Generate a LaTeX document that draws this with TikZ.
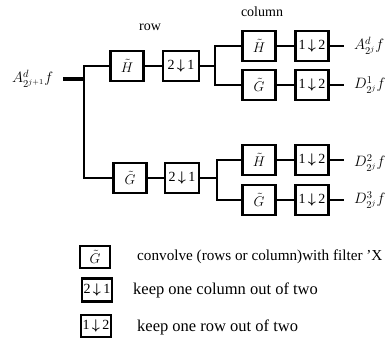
\documentclass[tikz,border=0pt]{standalone}
\usepackage{fix-cm}
\usepackage{fontspec}
\setmainfont{Liberation Serif}
\usepackage{amsmath,bm}
\newcommand{\keepcol}{2\,$\bm{\downarrow}$\,1}
\newcommand{\keeprow}{1\,$\bm{\downarrow}$\,2}
\begin{document}
\begin{tikzpicture}[x=1pt,y=-1pt,
  box/.style={draw, line width=2.8pt, minimum width=33pt, minimum height=30pt,
    inner sep=0pt, font=\fontsize{14}{15}\selectfont},
  keybox/.style={box, minimum width=30pt, minimum height=22pt},
  wire/.style={line width=2.6pt},
  lbl/.style={font=\fontsize{15}{16}\selectfont, anchor=west, inner sep=0pt},
  note/.style={font=\fontsize{16.5}{18}\selectfont, anchor=west, inner sep=0pt},
  head/.style={font=\fontsize{14}{15}\selectfont, inner sep=0pt}]
\useasboundingbox (0,0) rectangle (388,355);

% headings
\node[head] (hrow) at (150,27) {row};
\node[head] (hcol) at (262,12) {column};

% input
\node[lbl] (in) at (12,79) {$A^{d}_{2^{j+1}}f$};
\coordinate (i0) at (63,79);
\coordinate (s0) at (84,79);

% row stage
\node[box] (H1) at (127,66) {$\tilde H$};
\node[box, minimum width=36pt] (R1) at (181,66) {\keepcol};
\node[box] (G1) at (130,178) {$\tilde G$};
\node[box, minimum width=34pt] (R2) at (182,178) {\keepcol};

% column stage, upper
\coordinate (s1) at (215,66);
\node[box] (H11) at (259,46) {$\tilde H$};
\node[box] (G11) at (259,85) {$\tilde G$};
\node[box] (C11) at (312,46) {\keeprow};
\node[box] (C12) at (312,85) {\keeprow};

% column stage, lower
\coordinate (s2) at (217,178);
\node[box] (H21) at (259,160) {$\tilde H$};
\node[box] (G21) at (259,200) {$\tilde G$};
\node[box] (C21) at (312,160) {\keeprow};
\node[box] (C22) at (312,200) {\keeprow};

% outputs
\coordinate (o11) at (344,46);
\coordinate (o12) at (344,85);
\coordinate (o21) at (344,160);
\coordinate (o22) at (344,200);
\node[lbl] (A1) at (354,46) {$A^{d}_{2^j}f$};
\node[lbl] (D1) at (354,85) {$D^{1}_{2^j}f$};
\node[lbl] (D2) at (354,163) {$D^{2}_{2^j}f$};
\node[lbl] (D3) at (354,200) {$D^{3}_{2^j}f$};

% wiring
\draw[line width=3.2pt] (i0) -- (s0);
\draw[wire] (H1.west) -| (s0) |- (G1.west);
\draw[wire] (H1) -- (R1);
\draw[wire] (G1) -- (R2);
\draw[wire] (R1) -- (s1);
\draw[wire] (R2) -- (s2);
\draw[wire] (H11.west) -| (s1) |- (G11.west);
\draw[wire] (H21.west) -| (s2) |- (G21.west);
\draw[wire] (H11) -- (C11);
\draw[wire] (G11) -- (C12);
\draw[wire] (H21) -- (C21);
\draw[wire] (G21) -- (C22);
\draw[wire] (C11) -- (o11);
\draw[wire] (C12) -- (o12);
\draw[wire] (C21) -- (o21);
\draw[wire] (C22) -- (o22);

% legend
\node[keybox] (kG) at (95,257) {$\tilde G$};
\node[keybox, minimum height=23pt] (kC) at (97,290) {\keepcol};
\node[keybox] (kR) at (96,326) {\keeprow};
\node[note, font=\fontsize{15.2}{17}\selectfont] (tG) at (137,257) {convolve (rows or column)with filter 'X};
\node[note] (tC) at (133,290) {keep one column out of two};
\node[note] (tR) at (137,327) {keep one row out of two};
\end{tikzpicture}
\end{document}
